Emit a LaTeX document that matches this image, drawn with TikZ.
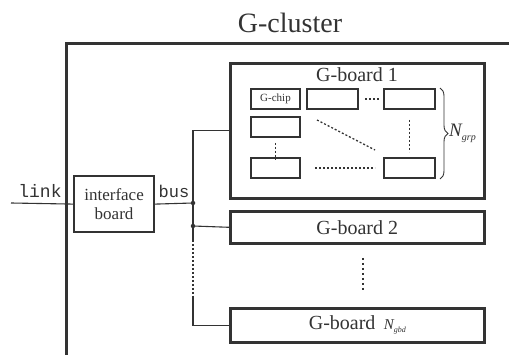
\documentclass[tikz,border=0pt]{standalone}
\usepackage{fontspec}
\setmainfont{Liberation Serif}
\setmonofont{Liberation Mono}
\usetikzlibrary{decorations.pathreplacing,calc}
\definecolor{ink}{HTML}{333333}
\begin{document}
\begin{tikzpicture}[x=1pt,y=-1pt,
  board/.style={draw=ink,line width=2.6pt,anchor=north west,inner sep=0pt},
  chip/.style={draw=ink,line width=2pt,minimum width=49pt,minimum height=20pt,anchor=north west,inner sep=0pt},
  wire/.style={draw=ink,line width=1.1pt},
  dots/.style={draw=ink,line width=1.3pt,dash pattern=on 2pt off 2pt},
  jdot/.style={circle,fill=ink,inner sep=0pt,minimum size=4.5pt},
  lbl/.style={text=ink,inner sep=0pt}]
\useasboundingbox (0,0) rectangle (509,355);
\clip (0,0) rectangle (509,355);
\fill[white] (0,0) rectangle (509,355);
% cluster
\node[board,minimum width=460pt,minimum height=325pt] (cl) at (65,42) {};
\node[lbl,font=\fontsize{28}{30}\selectfont] (clt) at (290,23) {G-cluster};
% boards
\node[board,minimum width=254pt,minimum height=135pt] (gb1) at (229,62) {};
\node[lbl,font=\fontsize{20}{22}\selectfont] (gb1t) at (357,75) {G-board 1};
\node[board,minimum width=254pt,minimum height=32pt,font=\fontsize{20}{22}\selectfont,text=ink] (gb2) at (229,210) {G-board 2};
\node[board,minimum width=254pt,minimum height=34pt,font=\fontsize{20}{22}\selectfont,text=ink] (gbn) at (229,307) {G-board \,{\fontsize{15}{16}\selectfont\itshape N\raisebox{-3pt}{\fontsize{8}{8}\selectfont gbd}}};
% chips
\node[chip,font=\fontsize{11}{12}\selectfont,text=ink] (c11) at (250,88) {G-chip};
\node[chip,minimum width=51pt] (c12) at (306,88) {};
\node[chip,minimum width=51pt] (c13) at (383,88) {};
\node[chip] (c21) at (250,116) {};
\node[chip] (c31) at (250,157) {};
\node[chip,minimum width=51pt] (c33) at (383,157) {};
\draw[dots] ([xshift=6pt]c12.east) -- ([xshift=-3pt]c13.west);
\draw[dots] ([xshift=14pt]c31.east) -- ([xshift=-8pt]c33.west);
\draw[dots] ([yshift=-5pt]c21.south) -- ([yshift=-3pt]c21.south |- c31.north);
\draw[dots] ([yshift=-10pt]c13.south) -- ([yshift=5pt]c33.north);
\draw[dots] (317,120) coordinate (dg1) -- (375,150) coordinate (dg2);
\draw[ink,line width=0.9pt,decorate,decoration={brace,amplitude=8pt}] ([xshift=4pt]c13.north east) -- ([xshift=4pt]c33.south east) coordinate[midway] (brm);
\node[lbl,anchor=west,font=\fontsize{19}{21}\selectfont\itshape] (ngrp) at ([xshift=9pt]brm) {N\raisebox{-4pt}{\fontsize{10}{10}\selectfont grp}};
% interface board
\node[board,line width=2.2pt,minimum width=80pt,minimum height=56pt,align=center,font=\fontsize{17}{19}\selectfont,text=ink] (ib) at (73,175) {interface\\board};
% wiring
\coordinate (lk) at (11,203);
\coordinate (j1) at (193,203);
\coordinate (j2) at (193,226);
\coordinate (d1) at (193,240);
\coordinate (d2) at (193,296);
\draw[wire] (lk) -- (ib.west);
\draw[wire] (ib.east) -- (j1);
\draw[wire] (gb1.west) -| (j1) -- (j2) -- (d1);
\draw[wire] (j2) -- (gb2.west);
\draw[dots,line width=1.1pt] (d1) -- (d2);
\draw[wire] (d2) |- (gbn.west);
\node[jdot] at (j1) {};
\node[jdot] at (j2) {};
\draw[draw=ink,line width=2.2pt,dash pattern=on 2.2pt off 2.8pt] (363,258) coordinate (v1) -- (363,290) coordinate (v2);
\node[lbl,font=\ttfamily\fontsize{18}{20}\selectfont] (lkt) at (40,191) {link};
\node[lbl,font=\ttfamily\fontsize{17}{19}\selectfont] (bst) at (174,191) {bus};
\end{tikzpicture}
\end{document}
